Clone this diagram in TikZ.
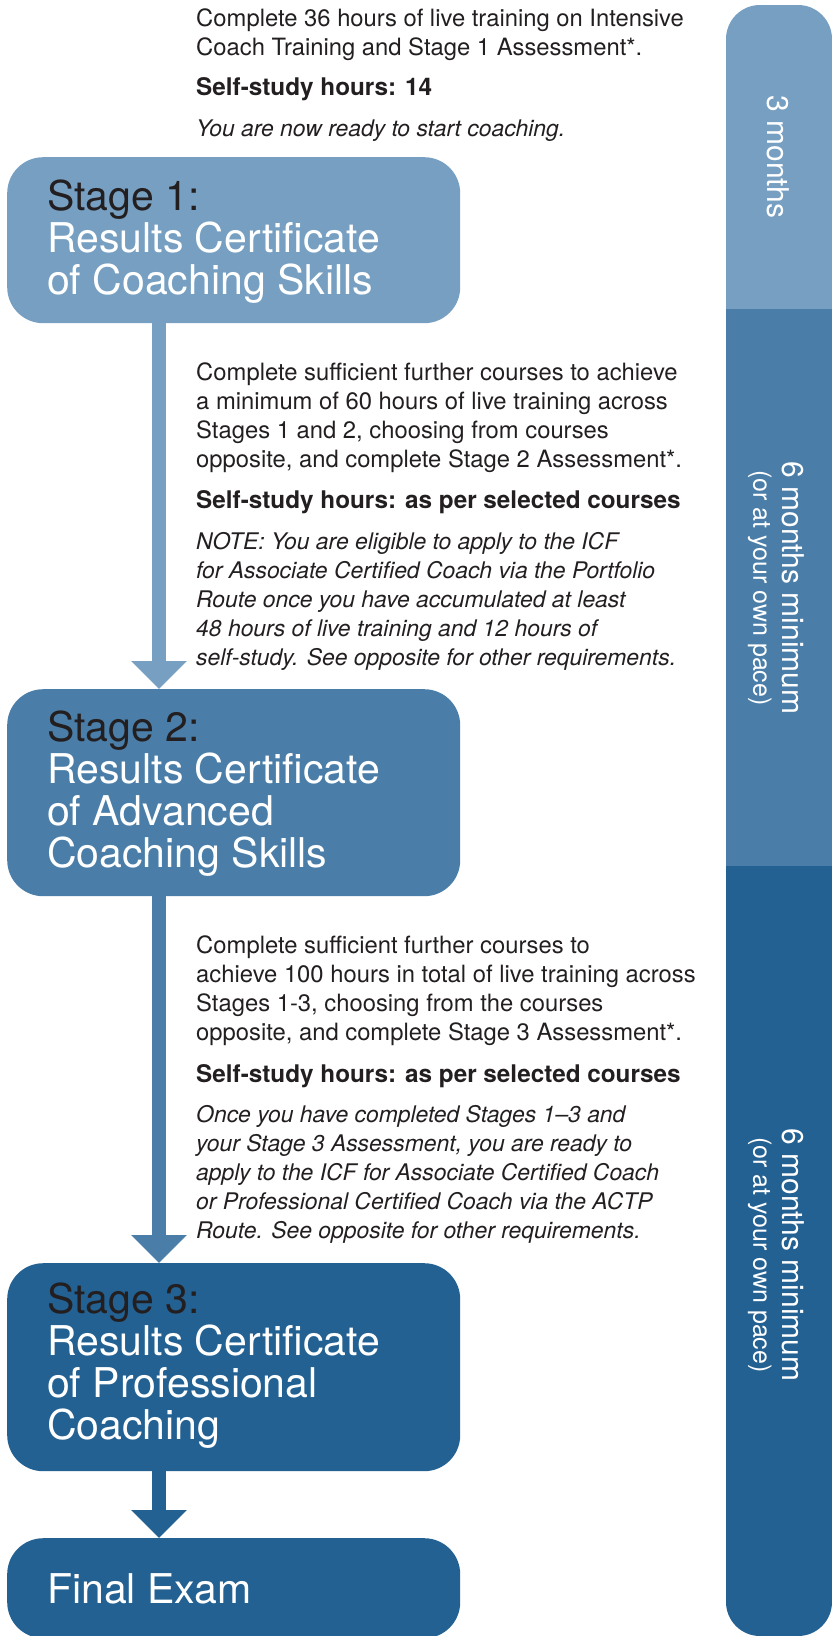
\documentclass[tikz,border=0pt]{standalone}
\usepackage{fontspec}
\setmainfont{TeX Gyre Heros}
\usetikzlibrary{arrows.meta}
\definecolor{cA}{RGB}{118,159,193}
\definecolor{cB}{RGB}{74,126,168}
\definecolor{cC}{RGB}{35,97,146}
\definecolor{ink}{RGB}{35,31,32}
\tikzset{
  stagebox/.style={draw=none, rounded corners=36pt, inner sep=0pt, anchor=north west, minimum width=453pt},
  titletxt/.style={anchor=base west, inner sep=0pt, align=left, text=white, font=\fontsize{41}{42}\selectfont},
  bodytxt/.style={anchor=base west, inner sep=0pt, align=left, text=ink, font=\fontsize{23.8}{29}\selectfont},
  boldtxt/.style={bodytxt, font=\fontsize{24.3}{29}\selectfont\bfseries},
  itxt/.style={bodytxt, font=\fontsize{22.9}{28.8}\selectfont\itshape},
  flow/.style={line width=13.5pt, -{Triangle[width=54pt,length=28pt]}},
  bartxt/.style={rotate=-90, text=white, inner sep=0pt, align=center, font=\fontsize{30}{29}\selectfont}
}
\begin{document}
\begin{tikzpicture}[x=1pt,y=-1pt]
\useasboundingbox (0,0) rectangle (832,1636);
% time bar
\begin{scope}
  \clip[rounded corners=34pt] (726,5) rectangle (832,1636);
  \fill[cA] (726,5) rectangle (832,309);
  \fill[cB] (726,309) rectangle (832,866);
  \fill[cC] (726,866) rectangle (832,1636);
\end{scope}
\node[bartxt] (m1) at (778,157) {3 months};
\node[bartxt] (m2) at (776,588) {6 months minimum\\{\fontsize{25}{29}\selectfont(or at your own pace)}};
\node[bartxt] (m3) at (776,1255) {6 months minimum\\{\fontsize{25}{29}\selectfont(or at your own pace)}};

% stage boxes
\node[stagebox, fill=cA, minimum height=166pt] (s1) at (7,157) {};
\node[stagebox, fill=cB, minimum height=207pt] (s2) at (7,689) {};
\node[stagebox, fill=cC, minimum height=208pt] (s3) at (7,1263) {};
\node[stagebox, fill=cC, minimum height=100pt] (s4) at (7,1538) {};

% titles (anchored at the baseline of their last line)
\node[titletxt] (t1) at (47,294) {\textcolor{ink}{Stage 1:}\\Results Certificate\\of Coaching Skills};
\node[titletxt] (t2) at (47,867) {\textcolor{ink}{Stage 2:}\\Results Certificate\\of Advanced\\Coaching Skills};
\node[titletxt] (t3) at (47,1439) {\textcolor{ink}{Stage 3:}\\Results Certificate\\of Professional\\Coaching};
\node[titletxt] (t4) at (47,1603) {Final Exam};

% arrows
\coordinate (ax) at (159,0);
\draw[flow, color=cA] (s1.south -| ax) -- (s2.north -| ax);
\draw[flow, color=cB] (s2.south -| ax) -- (s3.north -| ax);
\draw[flow, color=cC] (s3.south -| ax) -- (s4.north -| ax);

% block 1
\node[bodytxt] (a1) at (196,55) {Complete 36 hours of live training on Intensive\\Coach Training and Stage 1 Assessment*.};
\node[boldtxt] (a2) at (196,95) {Self-study hours: 14};
\node[itxt] (a3) at (196,136) {You are now ready to start coaching.};

% block 2
\node[bodytxt] (b1) at (196,467) {Complete sufficient further courses to achieve\\a minimum of 60 hours of live training across\\Stages 1 and 2, choosing from courses\\opposite, and complete Stage 2 Assessment*.};
\node[boldtxt] (b2) at (196,508) {Self-study hours: as per selected courses};
\node[itxt] (b3) at (196,665) {NOTE: You are eligible to apply to the ICF\\for Associate Certified Coach via the Portfolio\\Route once you have accumulated at least\\48 hours of live training and 12 hours of\\self-study. See opposite for other requirements.};

% block 3
\node[bodytxt] (c1) at (196,1040) {Complete sufficient further courses to\\achieve 100 hours in total of live training across\\Stages 1-3, choosing from the courses\\opposite, and complete Stage 3 Assessment*.};
\node[boldtxt] (c2) at (196,1082) {Self-study hours: as per selected courses};
\node[itxt] (c3) at (196,1238) {Once you have completed Stages 1–3 and\\your Stage 3 Assessment, you are ready to\\apply to the ICF for Associate Certified Coach\\or Professional Certified Coach via the ACTP\\Route. See opposite for other requirements.};
\end{tikzpicture}
\end{document}
